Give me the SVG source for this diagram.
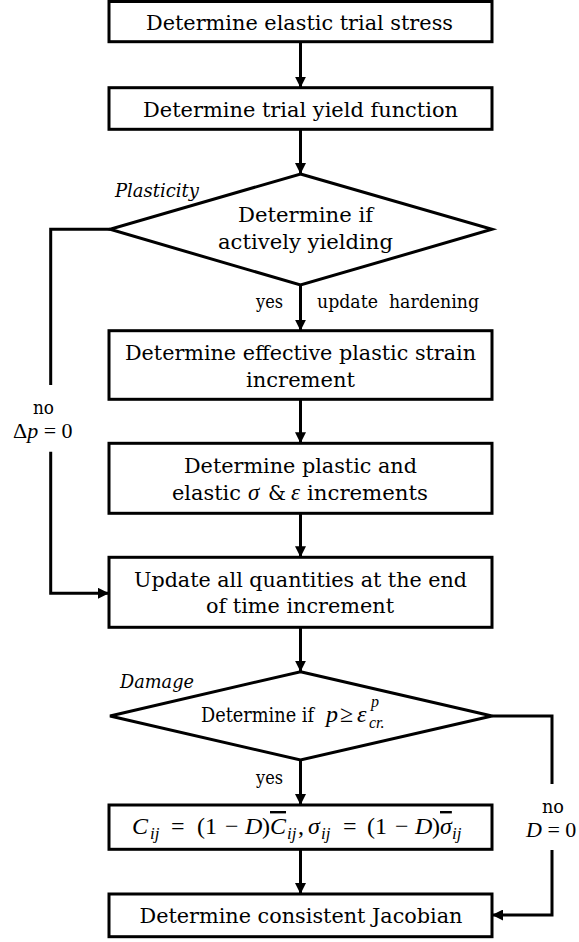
<svg xmlns="http://www.w3.org/2000/svg" width="579" height="942" viewBox="0 0 579 942">
<defs>
<marker id="arr" viewBox="0 0 10 10" refX="10" refY="5" markerWidth="11" markerHeight="11" markerUnits="userSpaceOnUse" orient="auto">
<path d="M0,0 L10,5 L0,10 Z" fill="#000"/>
</marker>
<style>
.box{fill:#fff;stroke:#000;stroke-width:3;stroke-linejoin:miter}
.t{font-family:'DejaVu Serif', 'Liberation Serif', serif;font-size:20.5px;fill:#000}
.s{font-family:'DejaVu Serif', 'Liberation Serif', serif;font-size:18px;fill:#000}
.i{font-style:italic}
.m{font-family:'Liberation Serif', 'DejaVu Serif', serif;font-style:italic;fill:#000}
.mu{font-family:'Liberation Serif', 'DejaVu Serif', serif;fill:#000}
.ol{text-decoration:overline}
.c{fill:none;stroke:#000;stroke-width:3}
</style>
</defs>
<rect width="579" height="942" fill="#fff"/>

<g id="connectors">
<line class="c" x1="300.5" y1="41.7" x2="300.5" y2="87.7" marker-end="url(#arr)"/>
<line class="c" x1="300.5" y1="129.3" x2="300.5" y2="174" marker-end="url(#arr)"/>
<line class="c" x1="300.5" y1="285" x2="300.5" y2="330.7" marker-end="url(#arr)"/>
<line class="c" x1="300.5" y1="399.3" x2="300.5" y2="443.3" marker-end="url(#arr)"/>
<line class="c" x1="300.5" y1="513.3" x2="300.5" y2="557.3" marker-end="url(#arr)"/>
<line class="c" x1="300.5" y1="627.3" x2="300.5" y2="671.7" marker-end="url(#arr)"/>
<line class="c" x1="300.5" y1="760" x2="300.5" y2="805" marker-end="url(#arr)"/>
<line class="c" x1="300.5" y1="849.3" x2="300.5" y2="894" marker-end="url(#arr)"/>
<path class="c" d="M110,229.3 H50.7 V385"/>
<path class="c" d="M50.7,451.7 V593.3 H109" marker-end="url(#arr)"/>
<path class="c" d="M492,716 H552 V784"/>
<path class="c" d="M552,850 V915 H492" marker-end="url(#arr)"/>
<text class="s" x="256" y="308" textLength="27" lengthAdjust="spacingAndGlyphs">yes</text>
<text class="s" x="317" y="308" textLength="162" lengthAdjust="spacingAndGlyphs" xml:space="preserve">update  hardening</text>
<text class="s" x="33" y="414" textLength="21" lengthAdjust="spacingAndGlyphs">no</text>
<text class="mu" x="13" y="438" style="font-size:22px"><tspan>Δ</tspan><tspan class="m">p</tspan><tspan> = 0</tspan></text>
<text class="s" x="256" y="784" textLength="27" lengthAdjust="spacingAndGlyphs">yes</text>
<text class="s" x="542" y="813" textLength="22" lengthAdjust="spacingAndGlyphs">no</text>
<text class="mu" x="526" y="837" style="font-size:22px"><tspan class="m">D</tspan><tspan> = 0</tspan></text>
</g>

<g id="n1">
<rect class="box" x="109" y="1.5" width="383" height="40.2"/>
<text class="t" x="146" y="30" textLength="307" lengthAdjust="spacingAndGlyphs">Determine elastic trial stress</text>
</g>

<g id="n2">
<rect class="box" x="109" y="87.7" width="383" height="41.6"/>
<text class="t" x="143" y="116.7" textLength="315" lengthAdjust="spacingAndGlyphs">Determine trial yield function</text>
</g>

<g id="n3">
<polygon class="box" points="300.5,174 492,229.3 300.5,285 110,229.3"/>
<text class="t" x="238" y="221.7" textLength="135" lengthAdjust="spacingAndGlyphs">Determine if</text>
<text class="t" x="218" y="249" textLength="175" lengthAdjust="spacingAndGlyphs">actively yielding</text>
<text class="s i" x="115" y="196.7" textLength="84" lengthAdjust="spacingAndGlyphs">Plasticity</text>
</g>

<g id="n4">
<rect class="box" x="109" y="330.7" width="383" height="68.6"/>
<text class="t" x="125" y="360" textLength="351" lengthAdjust="spacingAndGlyphs">Determine effective plastic strain</text>
<text class="t" x="246" y="387" textLength="109" lengthAdjust="spacingAndGlyphs">increment</text>
</g>

<g id="n5">
<rect class="box" x="109" y="443.3" width="383" height="70"/>
<text class="t" x="184" y="472.7" textLength="233" lengthAdjust="spacingAndGlyphs">Determine plastic and</text>
<text class="t" x="172" y="500" textLength="69" lengthAdjust="spacingAndGlyphs">elastic</text>
<text class="m" x="248" y="500" style="font-size:23px">σ</text>
<text class="t" x="268" y="500" textLength="18" lengthAdjust="spacingAndGlyphs">&amp;</text>
<text class="m" x="291" y="500" style="font-size:23px">ε</text>
<text class="t" x="307" y="500" textLength="121" lengthAdjust="spacingAndGlyphs">increments</text>
</g>

<g id="n6">
<rect class="box" x="109" y="557.3" width="383" height="70"/>
<text class="t" x="134" y="586.7" textLength="333" lengthAdjust="spacingAndGlyphs">Update all quantities at the end</text>
<text class="t" x="206" y="613" textLength="188" lengthAdjust="spacingAndGlyphs">of time increment</text>
</g>

<g id="n7">
<polygon class="box" points="300.5,671.7 492,716 300.5,760 110,716"/>
<text class="t" x="201" y="721.7" textLength="113" lengthAdjust="spacingAndGlyphs">Determine if</text>
<text class="m" x="326" y="721.7" style="font-size:24px">p</text>
<text class="mu" x="340" y="721.7" style="font-size:24px">≥</text>
<text class="m" x="357" y="721.7" style="font-size:24px">ε</text>
<text class="m" x="371" y="707" style="font-size:16px">p</text>
<text class="m" x="369" y="728" style="font-size:16px">cr.</text>
<text class="s i" x="120" y="688" textLength="74" lengthAdjust="spacingAndGlyphs">Damage</text>
</g>

<g id="n8">
<rect class="box" x="109" y="805" width="383" height="44.3"/>
<text class="mu" y="834" style="font-size:24px"><tspan class="m" x="132">C</tspan><tspan class="m" x="150" y="839" style="font-size:17px">ij</tspan><tspan x="171" y="834">=</tspan><tspan x="197">(1</tspan><tspan x="225">−</tspan><tspan class="m" x="245">D</tspan><tspan x="262">)</tspan><tspan class="m ol" x="270">C</tspan><tspan class="m" x="287" y="839" style="font-size:17px">ij</tspan><tspan x="298" y="834">,</tspan><tspan class="m" x="308">σ</tspan><tspan class="m" x="321" y="839" style="font-size:17px">ij</tspan><tspan x="343" y="834">=</tspan><tspan x="367">(1</tspan><tspan x="395">−</tspan><tspan class="m" x="415">D</tspan><tspan x="432">)</tspan><tspan class="m ol" x="440">σ</tspan><tspan class="m" x="452" y="839" style="font-size:17px">ij</tspan></text>
</g>

<g id="n9">
<rect class="box" x="109" y="894" width="383" height="42.7"/>
<text class="t" x="139.5" y="923" textLength="323" lengthAdjust="spacingAndGlyphs">Determine consistent Jacobian</text>
</g>
</svg>
